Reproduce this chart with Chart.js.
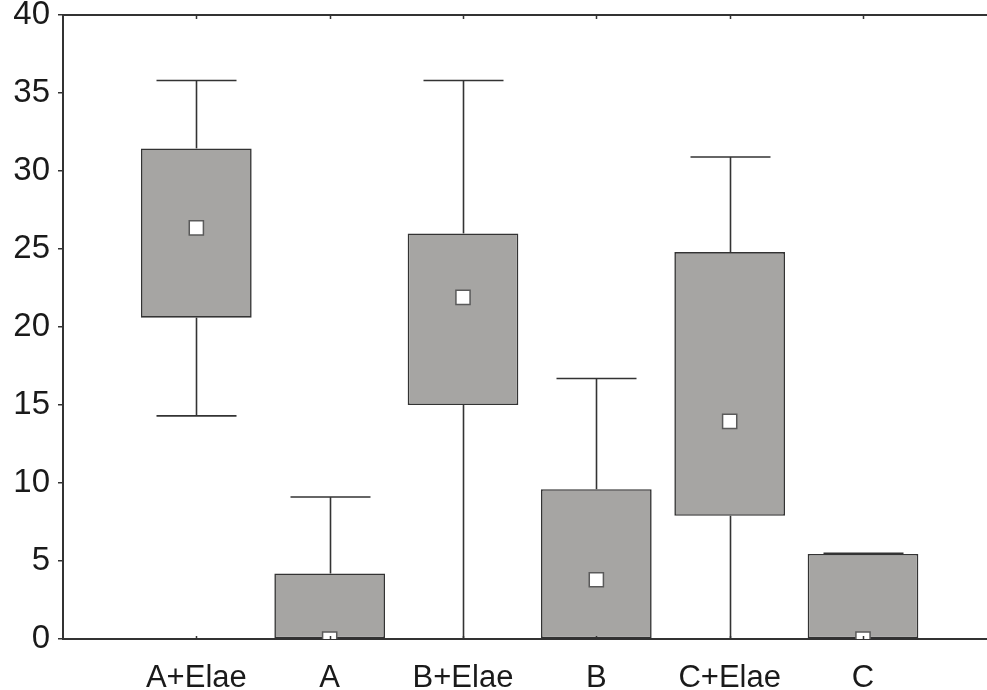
<!DOCTYPE html>
<html>
<head>
<meta charset="utf-8">
<script src="https://cdn.jsdelivr.net/npm/chart.js@4.4.1/dist/chart.umd.min.js"></script>
<style>
  html, body { margin: 0; padding: 0; background: #ffffff; overflow: hidden; }
  #wrap { width: 987px; height: 690px; }
</style>
</head>
<body>
<div id="wrap"><canvas id="c" width="987" height="690"></canvas></div>
<script>
// ---- data ----
const categories   = ['A+Elae', 'A', 'B+Elae', 'B', 'C+Elae', 'C'];
const whiskerLow   = [14.3, 0, 0, 0, 0, 0];
const boxLow       = [20.6, 0, 15.0, 0, 7.9, 0];
const medians      = [26.35, 0, 21.9, 3.8, 13.95, 0];
const boxHigh      = [31.45, 4.2, 26.0, 9.6, 24.8, 5.45];
const whiskerHigh  = [35.8, 9.1, 35.8, 16.7, 30.9, 5.5];
const yTicks       = [0, 5, 10, 15, 20, 25, 30, 35, 40];
// visible x window: the plot frame continues past the right edge of the image
const xMin = 0, xMax = 6.93;

const positions = categories.map((_, i) => i + 1);
const boxData = positions.map((x, i) => ({ x: x, y: [boxLow[i], boxHigh[i]] }));
const medianData = positions.map((x, i) => ({ x: x, y: medians[i] }));

const AXIS = '#333333';
const FAMILY = '"Liberation Sans", Arial, sans-serif';

const whiskerPlugin = {
  id: 'whiskers',
  beforeDatasetsDraw(chart) {
    const { ctx, chartArea } = chart;
    const xs = chart.scales.x, ys = chart.scales.y;
    ctx.save();
    ctx.beginPath();
    ctx.rect(chartArea.left, chartArea.top, chartArea.right - chartArea.left, chartArea.bottom - chartArea.top);
    ctx.clip();
    ctx.strokeStyle = AXIS;
    ctx.lineWidth = 1.6;
    const capHalf = (xs.getPixelForValue(1.3) - xs.getPixelForValue(1));
    positions.forEach((p, i) => {
      const x = Math.round(xs.getPixelForValue(p)) + 0.5;
      const segs = [[whiskerLow[i], boxLow[i]], [boxHigh[i], whiskerHigh[i]]];
      segs.forEach(([a, b]) => {
        ctx.beginPath();
        ctx.moveTo(x, ys.getPixelForValue(a));
        ctx.lineTo(x, ys.getPixelForValue(b));
        ctx.stroke();
      });
      [whiskerLow[i], whiskerHigh[i]].forEach(v => {
        const y = ys.getPixelForValue(v);
        ctx.beginPath();
        ctx.moveTo(x - capHalf, y);
        ctx.lineTo(x + capHalf, y);
        ctx.stroke();
      });
    });
    ctx.restore();
  },
  afterDraw(chart) {
    const { ctx, chartArea } = chart;
    const xs = chart.scales.x;
    ctx.save();
    ctx.strokeStyle = AXIS;
    ctx.lineWidth = 2;
    ctx.beginPath();
    ctx.moveTo(chartArea.left - 1, chartArea.top);
    ctx.lineTo(chartArea.right, chartArea.top);
    ctx.stroke();
    ctx.lineWidth = 1.5;
    positions.forEach(p => {
      const x = Math.round(xs.getPixelForValue(p)) + 0.5;
      ctx.beginPath();
      ctx.moveTo(x, chartArea.top);
      ctx.lineTo(x, chartArea.top + 4);
      ctx.moveTo(x, chartArea.bottom);
      ctx.lineTo(x, chartArea.bottom - 3);
      ctx.stroke();
    });
    ctx.restore();
  }
};

new Chart(document.getElementById('c'), {
  data: {
    datasets: [
      {
        type: 'bar',
        data: boxData,
        backgroundColor: '#a6a5a3',
        borderColor: AXIS,
        borderWidth: 1.6,
        borderSkipped: false,
        categoryPercentage: 1,
        barPercentage: 0.83,
        order: 2
      },
      {
        type: 'scatter',
        data: medianData,
        pointStyle: 'rect',
        pointRadius: 10,
        pointHoverRadius: 10,
        pointBackgroundColor: '#ffffff',
        pointBorderColor: '#5a5a5a',
        pointBorderWidth: 1.5,
        clip: 0,
        order: 1
      }
    ]
  },
  options: {
    responsive: false,
    animation: false,
    events: [],
    layout: { autoPadding: false, padding: { top: 15, right: 0, left: 0, bottom: 0 } },
    plugins: { legend: { display: false }, tooltip: { enabled: false } },
    scales: {
      x: {
        type: 'linear',
        min: xMin,
        max: xMax,
        offset: false,
        afterFit: s => { s.height = 51; s.paddingLeft = 0; s.paddingRight = 0; },
        afterBuildTicks: s => { s.ticks = positions.map(v => ({ value: v })); },
        ticks: {
          autoSkip: false,
          maxRotation: 0,
          padding: 24,
          color: '#1a1a1a',
          font: { family: FAMILY, size: 31, lineHeight: 1 },
          callback: v => categories[v - 1] || ''
        },
        grid: { display: true, drawOnChartArea: false, drawTicks: false, color: 'rgba(0,0,0,0)' },
        border: { display: true, color: AXIS, width: 2 }
      },
      y: {
        type: 'linear',
        min: 0,
        max: 40,
        afterFit: s => { s.width = 63; s.paddingTop = 0; s.paddingBottom = 0; },
        afterBuildTicks: s => { s.ticks = yTicks.map(v => ({ value: v })); },
        ticks: {
          padding: 8,
          color: '#1a1a1a',
          font: { family: FAMILY, size: 33, lineHeight: 1 }
        },
        grid: { drawOnChartArea: false, drawTicks: true, tickLength: 5, color: AXIS, lineWidth: 1.5 },
        border: { display: true, color: AXIS, width: 2 }
      }
    }
  },
  plugins: [whiskerPlugin]
});
</script>
</body>
</html>
